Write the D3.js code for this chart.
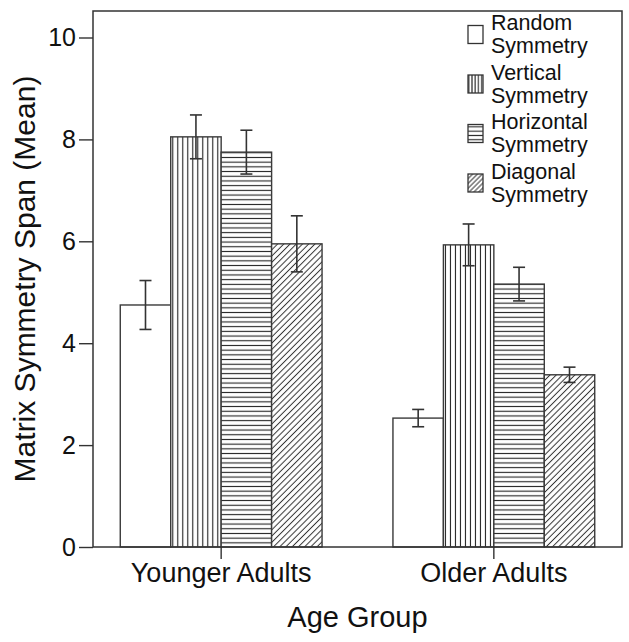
<!DOCTYPE html>
<html>
<head>
<meta charset="utf-8">
<script src="https://cdn.jsdelivr.net/npm/d3@7"></script>
<style>
  body { margin: 0; background: #fff; }
  text { font-family: "Liberation Sans", Arial, sans-serif; fill: #111; }
</style>
</head>
<body>
<div id="chart-container"></div>
<script>
// Data
const groups = ["Younger Adults", "Older Adults"];
const conditions = ["Random", "Vertical", "Horizontal", "Diagonal"];
const legendLabels = ["Random Symmetry", "Vertical Symmetry", "Horizontal Symmetry", "Diagonal Symmetry"];
const youngerMeans = [4.75, 8.05, 7.75, 5.95];
const youngerErrors = [0.48, 0.43, 0.43, 0.55];
const olderMeans = [2.53, 5.93, 5.16, 3.38];
const olderErrors = [0.17, 0.41, 0.33, 0.15];
const yTicks = [0, 2, 4, 6, 8, 10];

(() => {
  const W = 629, H = 642;
  const left = 93, right = 622, top = 11, bottom = 547;

  const svg = d3.select("#chart-container")
    .append("svg")
    .attr("width", W)
    .attr("height", H);

  // hatch patterns
  const defs = svg.append("defs");
  function hatch(id, kind, gap) {
    const p = defs.append("pattern")
      .attr("id", id)
      .attr("patternUnits", "userSpaceOnUse")
      .attr("width", gap)
      .attr("height", gap);
    p.append("rect").attr("width", gap).attr("height", gap).attr("fill", "#fff");
    if (kind === "v") {
      p.append("line").attr("x1", gap / 2).attr("x2", gap / 2).attr("y1", 0).attr("y2", gap)
        .attr("stroke", "#222").attr("stroke-width", 1.1);
    } else if (kind === "h") {
      p.append("line").attr("y1", gap / 2).attr("y2", gap / 2).attr("x1", 0).attr("x2", gap)
        .attr("stroke", "#222").attr("stroke-width", 1.1);
    } else if (kind === "d") {
      p.attr("patternTransform", "rotate(45)");
      p.append("line").attr("x1", gap / 2).attr("x2", gap / 2).attr("y1", 0).attr("y2", gap)
        .attr("stroke", "#333").attr("stroke-width", 1);
    }
    return `url(#${id})`;
  }
  const fills = [
    "#fff",
    hatch("pv", "v", 5),
    hatch("ph", "h", 4.7),
    hatch("pd", "d", 4.4)
  ];
  const legendFills = [
    "#fff",
    hatch("lv", "v", 3.2),
    hatch("lh", "h", 4.3),
    hatch("ld", "d", 3.4)
  ];

  // scales
  const x0 = d3.scaleBand()
    .domain(groups)
    .range([left, right])
    .paddingInner(0.26)
    .paddingOuter(0.1);

  const x1 = d3.scaleBand()
    .domain(conditions)
    .range([0, x0.bandwidth()]);

  const y = d3.scaleLinear()
    .domain([0, 10])
    .range([bottom, 37.5]);

  const data = groups.map((g, gi) => ({
    group: g,
    values: conditions.map((c, ci) => ({
      cond: c,
      idx: ci,
      mean: gi === 0 ? youngerMeans[ci] : olderMeans[ci],
      err: gi === 0 ? youngerErrors[ci] : olderErrors[ci]
    }))
  }));

  // bars
  const gGroups = svg.selectAll(".grp")
    .data(data)
    .enter().append("g")
    .attr("class", "grp")
    .attr("transform", d => `translate(${x0(d.group)},0)`);

  gGroups.selectAll(".bar")
    .data(d => d.values)
    .enter().append("rect")
    .attr("class", "bar")
    .attr("x", d => x1(d.cond))
    .attr("y", d => y(d.mean))
    .attr("width", x1.bandwidth())
    .attr("height", d => y(0) - y(d.mean))
    .attr("fill", d => fills[d.idx])
    .attr("stroke", "#3a3a3a")
    .attr("stroke-width", 1.4);

  // error bars
  const capW = 12;
  const eb = gGroups.selectAll(".err")
    .data(d => d.values)
    .enter().append("g")
    .attr("class", "err")
    .attr("stroke", "#333")
    .attr("stroke-width", 1.6);
  eb.append("line")
    .attr("x1", d => x1(d.cond) + x1.bandwidth() / 2)
    .attr("x2", d => x1(d.cond) + x1.bandwidth() / 2)
    .attr("y1", d => y(d.mean + d.err))
    .attr("y2", d => y(d.mean - d.err));
  eb.append("line")
    .attr("x1", d => x1(d.cond) + x1.bandwidth() / 2 - capW / 2)
    .attr("x2", d => x1(d.cond) + x1.bandwidth() / 2 + capW / 2)
    .attr("y1", d => y(d.mean + d.err))
    .attr("y2", d => y(d.mean + d.err));
  eb.append("line")
    .attr("x1", d => x1(d.cond) + x1.bandwidth() / 2 - capW / 2)
    .attr("x2", d => x1(d.cond) + x1.bandwidth() / 2 + capW / 2)
    .attr("y1", d => y(d.mean - d.err))
    .attr("y2", d => y(d.mean - d.err));

  // frame
  svg.append("rect")
    .attr("x", left)
    .attr("y", top)
    .attr("width", right - left)
    .attr("height", bottom - top)
    .attr("fill", "none")
    .attr("stroke", "#333")
    .attr("stroke-width", 1.5);

  // axes
  const yAxis = svg.append("g")
    .attr("transform", `translate(${left},0)`)
    .call(d3.axisLeft(y).tickValues(yTicks).tickSize(14).tickPadding(3));
  yAxis.select(".domain").remove();
  yAxis.selectAll("line").attr("stroke", "#333").attr("stroke-width", 1.4);
  yAxis.selectAll("text").style("font-size", "25px").attr("fill", "#111");

  const xAxis = svg.append("g")
    .attr("transform", `translate(0,${bottom})`)
    .call(d3.axisBottom(x0).tickSize(12).tickPadding(4));
  xAxis.select(".domain").remove();
  xAxis.selectAll("line").attr("stroke", "#333").attr("stroke-width", 1.4);
  xAxis.selectAll("text").style("font-size", "27px").attr("fill", "#111");

  // axis titles
  svg.append("text")
    .attr("x", (left + right) / 2)
    .attr("y", 627)
    .attr("text-anchor", "middle")
    .style("font-size", "29px")
    .text("Age Group");

  svg.append("text")
    .attr("transform", "rotate(-90)")
    .attr("x", -(top + bottom) / 2)
    .attr("y", 35)
    .attr("text-anchor", "middle")
    .style("font-size", "30px")
    .text("Matrix Symmetry Span (Mean)");

  // legend
  const legend = svg.append("g");
  legendLabels.forEach((lab, i) => {
    const cy = 22.5 + 49.5 * i;
    legend.append("rect")
      .attr("x", 468)
      .attr("y", cy + 3)
      .attr("width", 15)
      .attr("height", 18)
      .attr("fill", legendFills[i])
      .attr("stroke", "#333")
      .attr("stroke-width", 1.3);
    const words = lab.split(" ");
    words.forEach((w, j) => {
      legend.append("text")
        .attr("x", 491)
        .attr("y", cy + 23 * j)
        .attr("dy", "0.35em")
        .style("font-size", "21.5px")
        .text(w);
    });
  });
})();
</script>
</body>
</html>
